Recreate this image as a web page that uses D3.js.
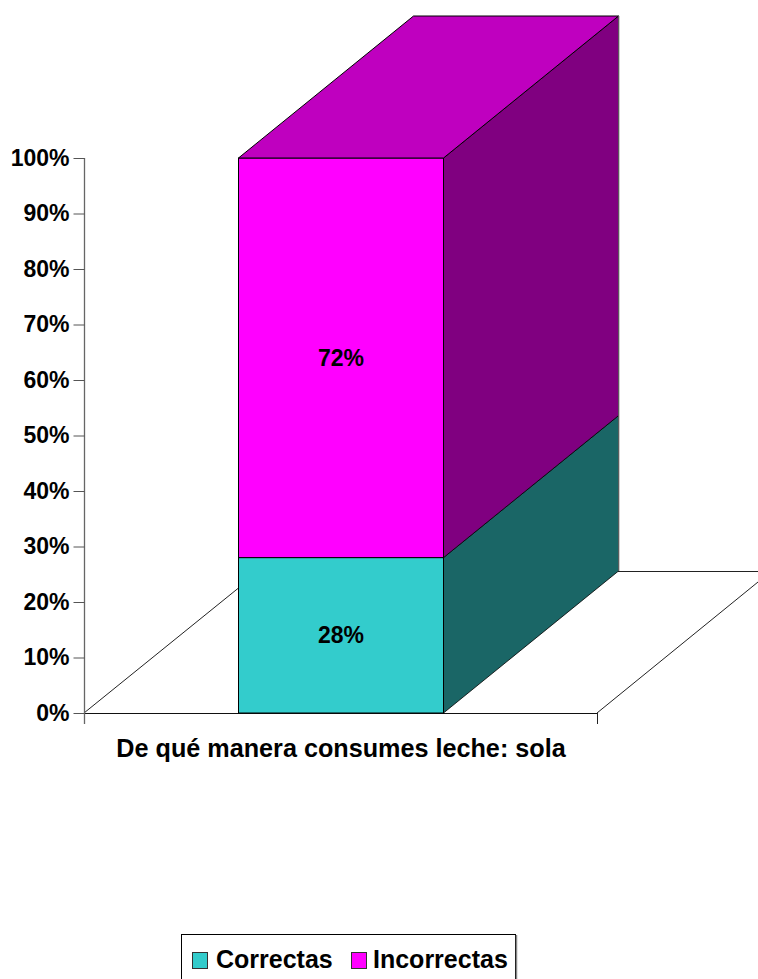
<!DOCTYPE html>
<html><head><meta charset="utf-8">
<script src="https://d3js.org/d3.v7.min.js"></script>
<style>html,body{margin:0;padding:0;background:#fff}svg{display:block}text{font-family:"Liberation Sans",Arial,sans-serif;font-weight:700;fill:#000}</style>
</head><body><svg id="c" width="758" height="979"></svg>
<script>
const categories=["De qué manera consumes leche: sola"];
const seriesNames=["Correctas","Incorrectas"];
const seriesValues=[[0.28],[0.72]];
const tickValues=[0,0.1,0.2,0.3,0.4,0.5,0.6,0.7,0.8,0.9,1];
const frontColors=["#33CCCC","#FF00FF"];
const sideColors=["#1A6666","#800080"];
const topColor="#BF00BF";

const svg=d3.select("#c");
const y=d3.scaleLinear().domain([0,1]).range([713,158]);
const x=d3.scaleBand().domain(categories).range([84,597]).paddingInner(0).paddingOuter(0.75);
const depth={dx:175,dy:-142};
const x0=Math.round(x(categories[0]))+.5,x1=x0+Math.round(x.bandwidth());
const line=d3.line();

// floor
svg.append("path").attr("d",line([[618,571.5],[758,571.5]])).attr("fill","none").attr("stroke","#222").attr("stroke-width",1);
svg.append("path").attr("d",line([[597,713],[758,582]])).attr("fill","none").attr("stroke","#222").attr("stroke-width",1);
svg.append("path").attr("d",line([[84,713],[x0,588]])).attr("fill","none").attr("stroke","#222").attr("stroke-width",1);
svg.append("path").attr("d",line([[84,713.5],[597,713.5]])).attr("fill","none").attr("stroke","#111").attr("stroke-width",1.2);

// axis
const axis=d3.axisLeft(y).tickValues(tickValues).tickFormat(d3.format(".0%")).tickSize(11).tickPadding(4);
const g=svg.append("g").attr("transform","translate(84.5,0)").call(axis);
g.select(".domain").attr("d",`M0,${y(1)}V724`).attr("stroke","#666").attr("stroke-width",1.3);
g.selectAll(".tick line").attr("stroke","#555");
g.selectAll("text").style("font-size","23px").style("font-family",'"Liberation Sans",Arial,sans-serif').style("font-weight","700").attr("fill","#000");
svg.append("line").attr("x1",597.5).attr("x2",597.5).attr("y1",713).attr("y2",724).attr("stroke","#222");

// stacked 3D bar
const stack=d3.stack().keys([0,1]).value((d,k)=>d[k]);
const rows=categories.map((c,i)=>seriesValues.map(s=>s[i]));
const layers=stack(rows);
layers.forEach((layer,i)=>{
  const a=layer[0][0],b=layer[0][1];
  const bar=svg.append("g");
  bar.append("path").attr("d",line([[x1,y(a)],[x1+depth.dx,y(a)+depth.dy],[x1+depth.dx,y(b)+depth.dy],[x1,y(b)]])+"Z")
    .attr("fill",sideColors[i]).attr("stroke","#000").attr("stroke-width",0.8);
  bar.append("rect").attr("x",x0).attr("y",y(b)).attr("width",x1-x0).attr("height",y(a)-y(b))
    .attr("fill",frontColors[i]).attr("stroke","#000").attr("stroke-width",1);
  bar.append("text").attr("x",(x0+x1)/2).attr("y",(y(a)+y(b))/2+8).attr("text-anchor","middle").style("font-size","23px").text(d3.format(".0%")(b-a));
});
svg.append("path").attr("d",line([[x0,y(1)],[x0+depth.dx,y(1)+depth.dy],[x1+depth.dx,y(1)+depth.dy],[x1,y(1)]])+"Z")
  .attr("fill",topColor).attr("stroke","#000").attr("stroke-width",1);
svg.append("line").attr("x1",x1+depth.dx+.5).attr("x2",x1+depth.dx+.5).attr("y1",16).attr("y2",571).attr("stroke","#999");

// category label
svg.append("text").attr("x",(x0+x1)/2).attr("y",757).attr("text-anchor","middle").style("font-size","25.2px").text(categories[0]);

// legend
svg.append("rect").attr("x",181.5).attr("y",934.5).attr("width",334).attr("height",60).attr("fill","#fff").attr("stroke","#000");
svg.append("line").attr("x1",516.5).attr("x2",516.5).attr("y1",935).attr("y2",979).attr("stroke","#888").attr("stroke-width",1.5);
const legendX=[192.5,351.5],legendTextX=[216,373];
seriesNames.forEach((n,i)=>{
  svg.append("rect").attr("x",legendX[i]).attr("y",952.5).attr("width",15).attr("height",16).attr("fill",frontColors[i]).attr("stroke","#333");
  svg.append("text").attr("x",legendTextX[i]).attr("y",968).style("font-size","25px").text(n);
});
</script></body></html>
